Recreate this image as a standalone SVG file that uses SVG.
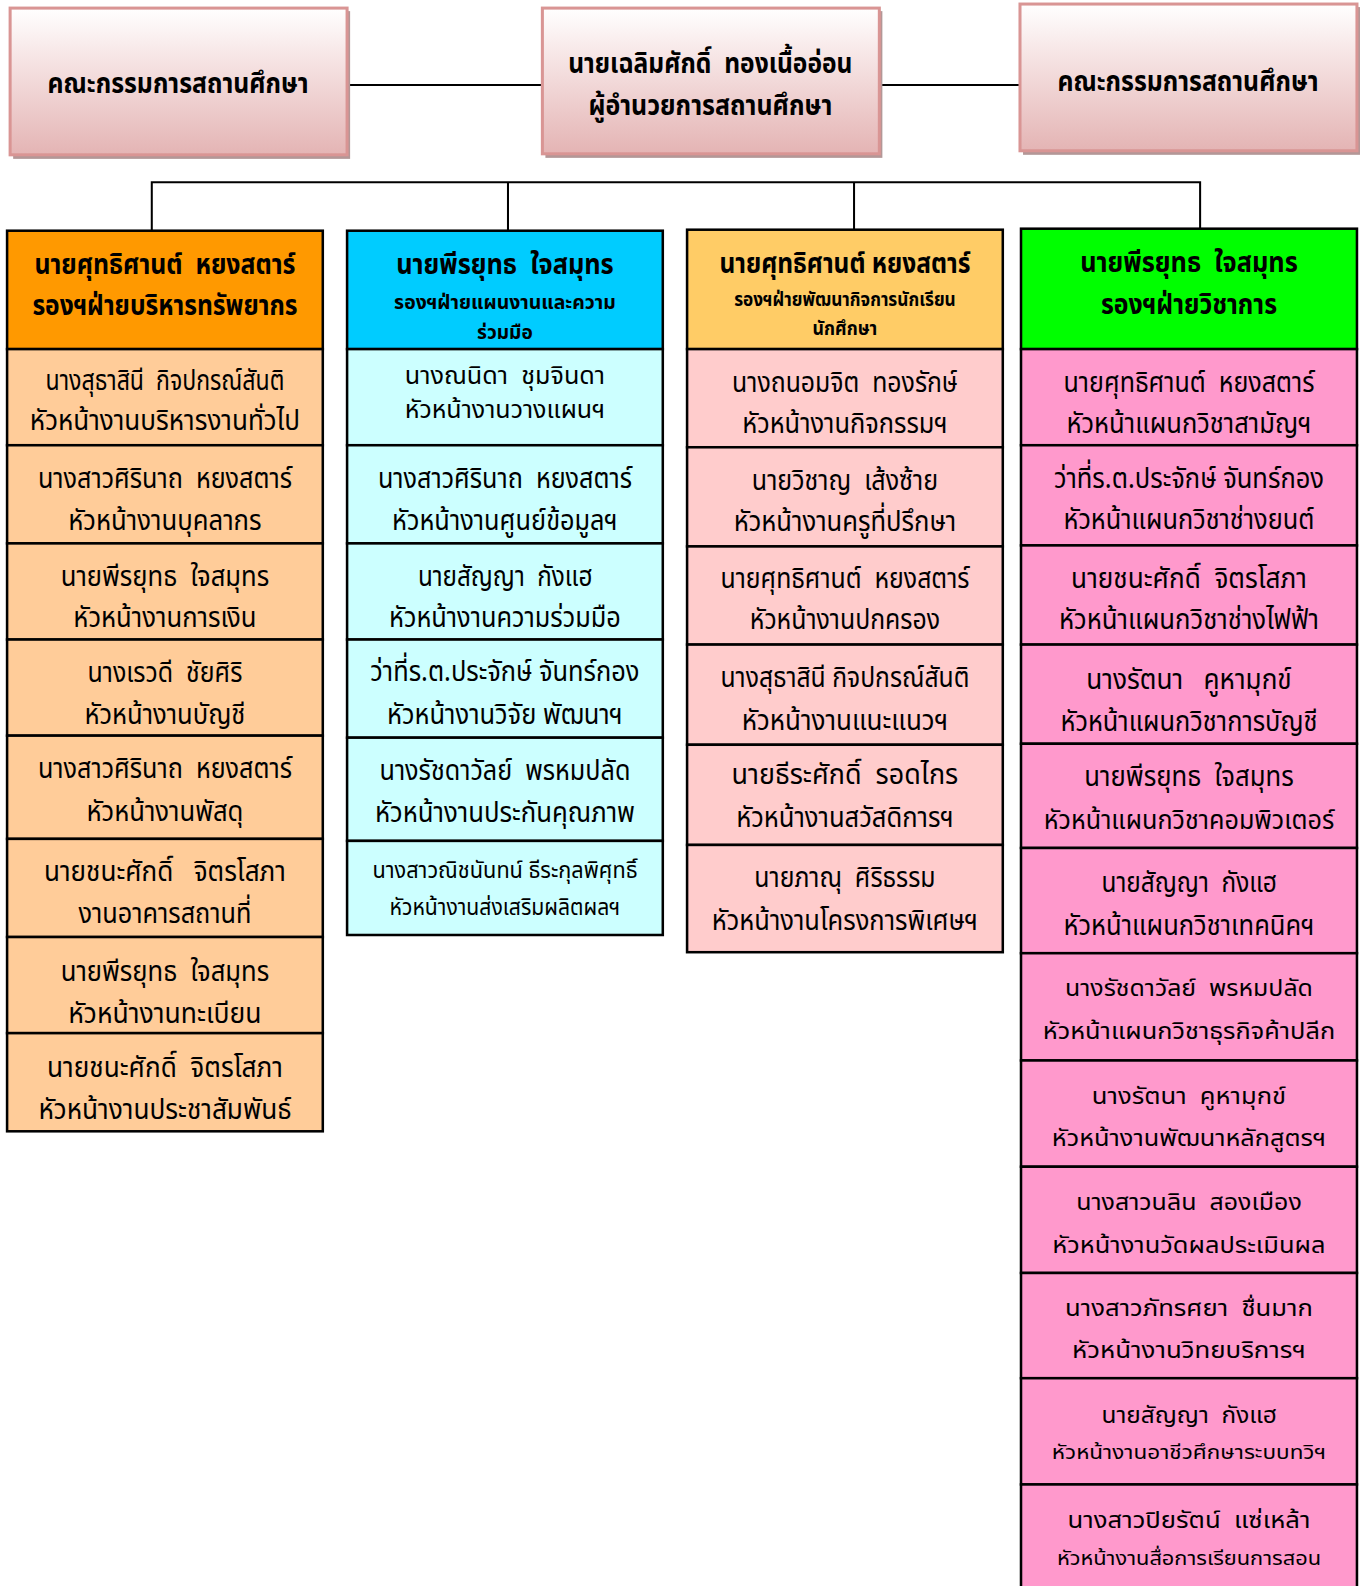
<svg xmlns="http://www.w3.org/2000/svg" width="1366" height="1586" viewBox="0 0 1366 1586">
<defs>
<linearGradient id="pinkGrad" x1="0" y1="0" x2="0" y2="1">
<stop offset="0" stop-color="#ffffff"/>
<stop offset="0.35" stop-color="#f6e4e4"/>
<stop offset="1" stop-color="#e4b4b4"/>
</linearGradient>
<style>
text{font-family:"Noto Sans Thai","Noto Sans",sans-serif;text-anchor:middle;fill:#000;white-space:pre;}
.t{font-size:28px;}
.s{font-size:22px;}
.b{font-size:28px;font-weight:bold;}
.bs{font-size:19px;font-weight:bold;}
.top{fill:url(#pinkGrad);stroke:#d99594;stroke-width:3;}
.shadow{fill:#b39797;}
.cell{stroke:#000;stroke-width:2.5;}
.h1{fill:#ff9900;}.c1{fill:#ffcc99;}
.h2{fill:#00ccff;}.c2{fill:#ccffff;}
.h3{fill:#ffcc66;}.c3{fill:#ffcccc;}
.h4{fill:#00ff00;}.c4{fill:#ff99cc;}
.line{stroke:#000;stroke-width:2;fill:none;}
</style>
</defs>
<rect width="1366" height="1586" fill="#fff"/>
<g transform="scale(1.0119)">
<g id="connectors">
<line class="line" x1="343" y1="84" x2="536" y2="84"/>
<line class="line" x1="869" y1="84" x2="1008" y2="84"/>
<polyline class="line" points="150,228 150,180 1186,180 1186,227"/>
<line class="line" x1="502" y1="180" x2="502" y2="228"/>
<line class="line" x1="844" y1="180" x2="844" y2="227"/>
</g>
<g id="board-left">
<rect class="shadow" x="13" y="11" width="333" height="146"/>
<rect class="top" x="10" y="8" width="333" height="145"/>
<text class="b" x="176" y="92" textLength="258" lengthAdjust="spacingAndGlyphs">คณะกรรมการสถานศึกษา</text>
</g>
<g id="director">
<rect class="shadow" x="539" y="11" width="333" height="145"/>
<rect class="top" x="536" y="8" width="333" height="144"/>
<text class="b" x="702" y="72" textLength="281" lengthAdjust="spacingAndGlyphs">นายเฉลิมศักดิ์  ทองเนื้ออ่อน</text>
<text class="b" x="702" y="114" textLength="241" lengthAdjust="spacingAndGlyphs">ผู้อำนวยการสถานศึกษา</text>
</g>
<g id="board-right">
<rect class="shadow" x="1011" y="7" width="333" height="146"/>
<rect class="top" x="1008" y="4" width="333" height="145"/>
<text class="b" x="1174" y="90" textLength="258" lengthAdjust="spacingAndGlyphs">คณะกรรมการสถานศึกษา</text>
</g>

<g id="col1">
<rect class="cell h1" x="7" y="228" width="312" height="117"/>
<text class="b" x="163" y="271" textLength="258" lengthAdjust="spacingAndGlyphs">นายศุทธิศานต์  หยงสตาร์</text>
<text class="b" x="163" y="311" textLength="262" lengthAdjust="spacingAndGlyphs">รองฯฝ่ายบริหารทรัพยากร</text>
<rect class="cell c1" x="7" y="345" width="312" height="95"/>
<text class="t" x="163" y="385" textLength="236" lengthAdjust="spacingAndGlyphs">นางสุธาสินี  กิจปกรณ์สันติ</text>
<text class="t" x="163" y="425" textLength="267" lengthAdjust="spacingAndGlyphs">หัวหน้างานบริหารงานทั่วไป</text>
<rect class="cell c1" x="7" y="440" width="312" height="97"/>
<text class="t" x="163" y="482" textLength="251" lengthAdjust="spacingAndGlyphs">นางสาวศิรินาถ  หยงสตาร์</text>
<text class="t" x="163" y="524" textLength="191" lengthAdjust="spacingAndGlyphs">หัวหน้างานบุคลากร</text>
<rect class="cell c1" x="7" y="537" width="312" height="95"/>
<text class="t" x="163" y="579" textLength="206" lengthAdjust="spacingAndGlyphs">นายพีรยุทธ  ใจสมุทร</text>
<text class="t" x="163" y="620" textLength="181" lengthAdjust="spacingAndGlyphs">หัวหน้างานการเงิน</text>
<rect class="cell c1" x="7" y="632" width="312" height="95"/>
<text class="t" x="163" y="674" textLength="153" lengthAdjust="spacingAndGlyphs">นางเรวดี  ชัยศิริ</text>
<text class="t" x="163" y="715" textLength="159" lengthAdjust="spacingAndGlyphs">หัวหน้างานบัญชี</text>
<rect class="cell c1" x="7" y="727" width="312" height="102"/>
<text class="t" x="163" y="769" textLength="251" lengthAdjust="spacingAndGlyphs">นางสาวศิรินาถ  หยงสตาร์</text>
<text class="t" x="163" y="811" textLength="155" lengthAdjust="spacingAndGlyphs">หัวหน้างานพัสดุ</text>
<rect class="cell c1" x="7" y="829" width="312" height="97"/>
<text class="t" x="163" y="871" textLength="239" lengthAdjust="spacingAndGlyphs">นายชนะศักดิ์   จิตรโสภา</text>
<text class="t" x="163" y="912" textLength="171" lengthAdjust="spacingAndGlyphs">งานอาคารสถานที่</text>
<rect class="cell c1" x="7" y="926" width="312" height="95"/>
<text class="t" x="163" y="969" textLength="206" lengthAdjust="spacingAndGlyphs">นายพีรยุทธ  ใจสมุทร</text>
<text class="t" x="163" y="1011" textLength="191" lengthAdjust="spacingAndGlyphs">หัวหน้างานทะเบียน</text>
<rect class="cell c1" x="7" y="1021" width="312" height="97"/>
<text class="t" x="163" y="1064" textLength="233" lengthAdjust="spacingAndGlyphs">นายชนะศักดิ์  จิตรโสภา</text>
<text class="t" x="163" y="1106" textLength="250" lengthAdjust="spacingAndGlyphs">หัวหน้างานประชาสัมพันธ์</text>
</g>

<g id="col2">
<rect class="cell h2" x="343" y="228" width="312" height="117"/>
<text class="b" x="499" y="271" textLength="215" lengthAdjust="spacingAndGlyphs">นายพีรยุทธ  ใจสมุทร</text>
<text class="bs" x="499" y="305" textLength="219" lengthAdjust="spacingAndGlyphs">รองฯฝ่ายแผนงานและความ</text>
<text class="bs" x="499" y="335" textLength="55" lengthAdjust="spacingAndGlyphs">ร่วมมือ</text>
<rect class="cell c2" x="343" y="345" width="312" height="95"/>
<text class="t" x="499" y="379" textLength="198" lengthAdjust="spacingAndGlyphs" style="font-size:24px">นางณนิดา  ชุมจินดา</text>
<text class="t" x="499" y="413" textLength="198" lengthAdjust="spacingAndGlyphs" style="font-size:24px">หัวหน้างานวางแผนฯ</text>
<rect class="cell c2" x="343" y="440" width="312" height="97"/>
<text class="t" x="499" y="482" textLength="251" lengthAdjust="spacingAndGlyphs">นางสาวศิรินาถ  หยงสตาร์</text>
<text class="t" x="499" y="524" textLength="223" lengthAdjust="spacingAndGlyphs">หัวหน้างานศูนย์ข้อมูลฯ</text>
<rect class="cell c2" x="343" y="537" width="312" height="95"/>
<text class="t" x="499" y="579" textLength="172" lengthAdjust="spacingAndGlyphs">นายสัญญา  กังแฮ</text>
<text class="t" x="499" y="620" textLength="229" lengthAdjust="spacingAndGlyphs">หัวหน้างานความร่วมมือ</text>
<rect class="cell c2" x="343" y="632" width="312" height="97"/>
<text class="t" x="499" y="673" textLength="266" lengthAdjust="spacingAndGlyphs">ว่าที่ร.ต.ประจักษ์ จันทร์กอง</text>
<text class="t" x="499" y="715" textLength="233" lengthAdjust="spacingAndGlyphs">หัวหน้างานวิจัย พัฒนาฯ</text>
<rect class="cell c2" x="343" y="729" width="312" height="102"/>
<text class="t" x="499" y="771" textLength="248" lengthAdjust="spacingAndGlyphs">นางรัชดาวัลย์  พรหมปลัด</text>
<text class="t" x="499" y="812" textLength="257" lengthAdjust="spacingAndGlyphs">หัวหน้างานประกันคุณภาพ</text>
<rect class="cell c2" x="343" y="831" width="312" height="93"/>
<text class="s" x="499" y="868" textLength="262" lengthAdjust="spacingAndGlyphs">นางสาวณิชนันทน์ ธีระกุลพิศุทธิ์</text>
<text class="s" x="499" y="904" textLength="228" lengthAdjust="spacingAndGlyphs">หัวหน้างานส่งเสริมผลิตผลฯ</text>
</g>

<g id="col3">
<rect class="cell h3" x="679" y="227" width="312" height="118"/>
<text class="b" x="835" y="270" textLength="248" lengthAdjust="spacingAndGlyphs">นายศุทธิศานต์ หยงสตาร์</text>
<text class="bs" x="835" y="302" textLength="219" lengthAdjust="spacingAndGlyphs">รองฯฝ่ายพัฒนากิจการนักเรียน</text>
<text class="bs" x="835" y="331" textLength="64" lengthAdjust="spacingAndGlyphs">นักศึกษา</text>
<rect class="cell c3" x="679" y="345" width="312" height="97"/>
<text class="t" x="835" y="387" textLength="223" lengthAdjust="spacingAndGlyphs">นางถนอมจิต  ทองรักษ์</text>
<text class="t" x="835" y="428" textLength="203" lengthAdjust="spacingAndGlyphs">หัวหน้างานกิจกรรมฯ</text>
<rect class="cell c3" x="679" y="442" width="312" height="98"/>
<text class="t" x="835" y="484" textLength="184" lengthAdjust="spacingAndGlyphs">นายวิชาญ  เส้งซ้าย</text>
<text class="t" x="835" y="525" textLength="220" lengthAdjust="spacingAndGlyphs">หัวหน้างานครูที่ปรึกษา</text>
<rect class="cell c3" x="679" y="540" width="312" height="97"/>
<text class="t" x="835" y="581" textLength="246" lengthAdjust="spacingAndGlyphs">นายศุทธิศานต์  หยงสตาร์</text>
<text class="t" x="835" y="622" textLength="188" lengthAdjust="spacingAndGlyphs">หัวหน้างานปกครอง</text>
<rect class="cell c3" x="679" y="637" width="312" height="99"/>
<text class="t" x="835" y="679" textLength="246" lengthAdjust="spacingAndGlyphs">นางสุธาสินี กิจปกรณ์สันติ</text>
<text class="t" x="835" y="721" textLength="204" lengthAdjust="spacingAndGlyphs">หัวหน้างานแนะแนวฯ</text>
<rect class="cell c3" x="679" y="736" width="312" height="99"/>
<text class="t" x="835" y="775" textLength="224" lengthAdjust="spacingAndGlyphs">นายธีระศักดิ์  รอดไกร</text>
<text class="t" x="835" y="817" textLength="215" lengthAdjust="spacingAndGlyphs">หัวหน้างานสวัสดิการฯ</text>
<rect class="cell c3" x="679" y="835" width="312" height="106"/>
<text class="t" x="835" y="877" textLength="179" lengthAdjust="spacingAndGlyphs">นายภาณุ  ศิริธรรม</text>
<text class="t" x="835" y="919" textLength="263" lengthAdjust="spacingAndGlyphs">หัวหน้างานโครงการพิเศษฯ</text>
</g>

<g id="col4">
<rect class="cell h4" x="1009" y="226" width="332" height="119"/>
<text class="b" x="1175" y="269" textLength="215" lengthAdjust="spacingAndGlyphs">นายพีรยุทธ  ใจสมุทร</text>
<text class="b" x="1175" y="310" textLength="174" lengthAdjust="spacingAndGlyphs">รองฯฝ่ายวิชาการ</text>
<rect class="cell c4" x="1009" y="345" width="332" height="95"/>
<text class="t" x="1175" y="387" textLength="248" lengthAdjust="spacingAndGlyphs">นายศุทธิศานต์  หยงสตาร์</text>
<text class="t" x="1175" y="428" textLength="242" lengthAdjust="spacingAndGlyphs">หัวหน้าแผนกวิชาสามัญฯ</text>
<rect class="cell c4" x="1009" y="440" width="332" height="99"/>
<text class="t" x="1175" y="482" textLength="267" lengthAdjust="spacingAndGlyphs">ว่าที่ร.ต.ประจักษ์ จันทร์กอง</text>
<text class="t" x="1175" y="523" textLength="248" lengthAdjust="spacingAndGlyphs">หัวหน้าแผนกวิชาช่างยนต์</text>
<rect class="cell c4" x="1009" y="539" width="332" height="98"/>
<text class="t" x="1175" y="581" textLength="233" lengthAdjust="spacingAndGlyphs">นายชนะศักดิ์  จิตรโสภา</text>
<text class="t" x="1175" y="622" textLength="257" lengthAdjust="spacingAndGlyphs">หัวหน้าแผนกวิชาช่างไฟฟ้า</text>
<rect class="cell c4" x="1009" y="637" width="332" height="98"/>
<text class="t" x="1175" y="681" textLength="203" lengthAdjust="spacingAndGlyphs">นางรัตนา   คูหามุกข์</text>
<text class="t" x="1175" y="722" textLength="254" lengthAdjust="spacingAndGlyphs">หัวหน้าแผนกวิชาการบัญชี</text>
<rect class="cell c4" x="1009" y="735" width="332" height="103"/>
<text class="t" x="1175" y="777" textLength="207" lengthAdjust="spacingAndGlyphs">นายพีรยุทธ  ใจสมุทร</text>
<text class="t" x="1175" y="819" textLength="287" lengthAdjust="spacingAndGlyphs" style="font-size:26px">หัวหน้าแผนกวิชาคอมพิวเตอร์</text>
<rect class="cell c4" x="1009" y="838" width="332" height="104"/>
<text class="t" x="1175" y="882" textLength="173" lengthAdjust="spacingAndGlyphs">นายสัญญา  กังแฮ</text>
<text class="t" x="1175" y="924" textLength="248" lengthAdjust="spacingAndGlyphs">หัวหน้าแผนกวิชาเทคนิคฯ</text>
<rect class="cell c4" x="1009" y="942" width="332" height="106"/>
<text class="s" x="1175" y="984" textLength="245" lengthAdjust="spacingAndGlyphs">นางรัชดาวัลย์  พรหมปลัด</text>
<text class="s" x="1175" y="1027" textLength="289" lengthAdjust="spacingAndGlyphs">หัวหน้าแผนกวิชาธุรกิจค้าปลีก</text>
<rect class="cell c4" x="1009" y="1048" width="332" height="105"/>
<text class="s" x="1175" y="1091" textLength="192" lengthAdjust="spacingAndGlyphs">นางรัตนา  คูหามุกข์</text>
<text class="s" x="1175" y="1133" textLength="271" lengthAdjust="spacingAndGlyphs">หัวหน้างานพัฒนาหลักสูตรฯ</text>
<rect class="cell c4" x="1009" y="1153" width="332" height="105"/>
<text class="s" x="1175" y="1196" textLength="223" lengthAdjust="spacingAndGlyphs">นางสาวนลิน  สองเมือง</text>
<text class="s" x="1175" y="1238" textLength="270" lengthAdjust="spacingAndGlyphs">หัวหน้างานวัดผลประเมินผล</text>
<rect class="cell c4" x="1009" y="1258" width="332" height="104"/>
<text class="s" x="1175" y="1301" textLength="245" lengthAdjust="spacingAndGlyphs">นางสาวภัทรศยา  ชื่นมาก</text>
<text class="s" x="1175" y="1342" textLength="231" lengthAdjust="spacingAndGlyphs">หัวหน้างานวิทยบริการฯ</text>
<rect class="cell c4" x="1009" y="1362" width="332" height="105"/>
<text class="s" x="1175" y="1406" textLength="173" lengthAdjust="spacingAndGlyphs">นายสัญญา  กังแฮ</text>
<text class="s" x="1175" y="1442" textLength="271" lengthAdjust="spacingAndGlyphs" style="font-size:19px">หัวหน้างานอาชีวศึกษาระบบทวิฯ</text>
<rect class="cell c4" x="1009" y="1467" width="332" height="120"/>
<text class="s" x="1175" y="1510" textLength="240" lengthAdjust="spacingAndGlyphs">นางสาวปิยรัตน์  แซ่เหล้า</text>
<text class="s" x="1175" y="1547" textLength="261" lengthAdjust="spacingAndGlyphs" style="font-size:19px">หัวหน้างานสื่อการเรียนการสอน</text>
</g>
</g>
</svg>
